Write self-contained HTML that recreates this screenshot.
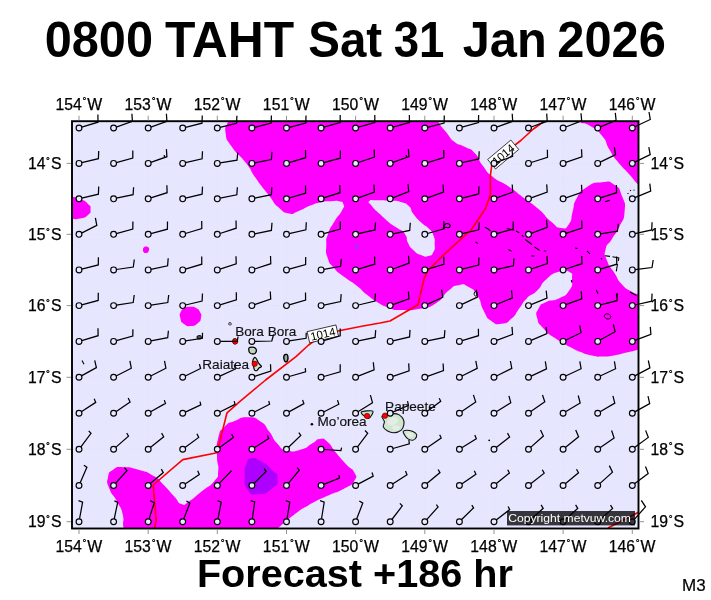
<!DOCTYPE html>
<html><head><meta charset="utf-8"><title>0800 TAHT Sat 31 Jan 2026</title>
<style>html,body{margin:0;padding:0;background:#fff;}svg{display:block;}</style></head>
<body>
<svg width="711" height="600" viewBox="0 0 711 600">
<defs><clipPath id="fc"><rect x="72.0" y="121.2" width="566.5" height="407.3"/></clipPath></defs>
<rect width="711" height="600" fill="#fff"/>
<g clip-path="url(#fc)">
<rect x="72.0" y="121.2" width="566.5" height="407.3" fill="#e6e6ff"/>
<line x1="632.3" y1="121.2" x2="632.3" y2="528.5" stroke="#c8c8d8" stroke-width="0.5" stroke-dasharray="3 2" opacity="0.3"/>
<line x1="563.1" y1="121.2" x2="563.1" y2="528.5" stroke="#c8c8d8" stroke-width="0.5" stroke-dasharray="3 2" opacity="0.3"/>
<line x1="494.0" y1="121.2" x2="494.0" y2="528.5" stroke="#c8c8d8" stroke-width="0.5" stroke-dasharray="3 2" opacity="0.3"/>
<line x1="424.8" y1="121.2" x2="424.8" y2="528.5" stroke="#c8c8d8" stroke-width="0.5" stroke-dasharray="3 2" opacity="0.3"/>
<line x1="355.6" y1="121.2" x2="355.6" y2="528.5" stroke="#c8c8d8" stroke-width="0.5" stroke-dasharray="3 2" opacity="0.3"/>
<line x1="286.5" y1="121.2" x2="286.5" y2="528.5" stroke="#c8c8d8" stroke-width="0.5" stroke-dasharray="3 2" opacity="0.3"/>
<line x1="217.3" y1="121.2" x2="217.3" y2="528.5" stroke="#c8c8d8" stroke-width="0.5" stroke-dasharray="3 2" opacity="0.3"/>
<line x1="148.2" y1="121.2" x2="148.2" y2="528.5" stroke="#c8c8d8" stroke-width="0.5" stroke-dasharray="3 2" opacity="0.3"/>
<line x1="79.0" y1="121.2" x2="79.0" y2="528.5" stroke="#c8c8d8" stroke-width="0.5" stroke-dasharray="3 2" opacity="0.3"/>
<line x1="72.0" y1="163.4" x2="638.5" y2="163.4" stroke="#c8c8d8" stroke-width="0.5" stroke-dasharray="3 2" opacity="0.3"/>
<line x1="72.0" y1="234.3" x2="638.5" y2="234.3" stroke="#c8c8d8" stroke-width="0.5" stroke-dasharray="3 2" opacity="0.3"/>
<line x1="72.0" y1="305.6" x2="638.5" y2="305.6" stroke="#c8c8d8" stroke-width="0.5" stroke-dasharray="3 2" opacity="0.3"/>
<line x1="72.0" y1="377.3" x2="638.5" y2="377.3" stroke="#c8c8d8" stroke-width="0.5" stroke-dasharray="3 2" opacity="0.3"/>
<line x1="72.0" y1="449.3" x2="638.5" y2="449.3" stroke="#c8c8d8" stroke-width="0.5" stroke-dasharray="3 2" opacity="0.3"/>
<line x1="72.0" y1="521.7" x2="638.5" y2="521.7" stroke="#c8c8d8" stroke-width="0.5" stroke-dasharray="3 2" opacity="0.3"/>
<path d="M228.0,121.0C226.5,128.0 224.3,124.3 225.6,133.0C226.9,141.7 225.2,137.0 232.0,147.0C238.8,157.0 238.0,152.5 246.0,163.0C254.0,173.5 248.5,167.8 256.0,178.5C263.5,189.2 261.0,185.3 268.6,195.0C276.2,204.7 271.9,201.5 278.7,207.6C285.5,213.7 282.5,212.2 289.0,213.4C295.5,214.6 290.8,213.9 298.1,211.2C305.4,208.5 303.4,208.3 311.0,205.3C318.6,202.3 314.3,203.6 321.0,202.2C327.7,200.8 325.0,201.5 331.0,201.2C337.0,200.9 334.9,200.3 339.0,201.3C343.1,202.3 342.4,201.2 343.4,204.3C344.4,207.4 345.0,204.8 342.0,210.5C339.0,216.2 339.1,213.7 334.4,221.5C329.7,229.3 330.7,226.2 328.0,234.0C325.3,241.8 326.4,237.1 326.3,245.0C326.2,252.9 325.0,250.1 327.6,257.8C330.2,265.5 328.5,261.7 334.0,268.0C339.5,274.3 336.4,270.9 344.0,276.8C351.6,282.7 349.1,279.8 356.7,285.7C364.3,291.6 360.0,289.2 366.8,294.6C373.6,300.0 369.4,297.5 377.0,302.0C384.6,306.5 381.9,305.3 389.6,308.0C397.3,310.7 390.5,309.7 400.0,310.0C409.5,310.3 406.1,311.2 418.0,309.0C429.9,306.8 425.6,309.5 435.7,303.4C445.8,297.3 440.8,296.9 448.4,290.8C456.0,284.7 451.8,286.5 458.5,285.2C465.2,283.9 462.3,283.5 468.6,287.0C474.9,290.5 472.4,287.8 477.5,295.8C482.6,303.8 479.2,302.6 483.8,311.0C488.4,319.4 485.5,316.8 491.4,321.0C497.3,325.2 494.8,324.5 501.5,323.7C508.2,322.9 505.7,323.7 511.6,318.6C517.5,313.5 514.1,315.2 519.2,308.5C524.3,301.8 520.9,304.3 526.8,298.4C532.7,292.5 530.5,297.1 537.0,290.8C543.5,284.5 538.9,285.7 546.2,279.4C553.5,273.1 551.2,274.3 558.8,271.8C566.4,269.3 564.6,269.3 569.0,271.8C573.4,274.3 572.0,273.1 572.0,279.4C572.0,285.7 573.4,284.5 569.0,290.8C564.6,297.1 566.4,294.7 558.8,298.4C551.2,302.1 552.9,298.6 546.2,302.0C539.5,305.4 541.6,303.0 538.6,308.5C535.6,314.0 535.6,311.9 537.3,318.6C539.0,325.3 537.4,321.9 543.7,328.7C550.0,335.5 547.0,332.6 556.3,338.9C565.6,345.2 563.6,343.4 571.5,347.7C579.4,352.0 573.3,349.2 580.0,351.8C586.7,354.4 583.9,353.9 591.7,355.5C599.5,357.1 595.5,356.7 603.3,356.6C611.1,356.5 607.2,356.6 615.0,355.3C622.8,354.0 618.9,354.5 626.7,352.6C634.5,350.7 630.7,352.1 638.5,349.6C646.3,347.1 642.8,354.9 650.0,345.0C657.2,335.1 661.7,335.3 660.0,320.0C658.3,304.7 654.2,308.3 645.0,299.0C635.8,289.7 640.0,296.9 632.3,292.0C624.6,287.1 627.9,290.7 622.0,284.4C616.1,278.1 619.5,281.0 614.5,273.0C609.5,265.0 609.9,268.4 607.0,260.4C604.1,252.4 604.0,256.1 605.7,249.0C607.4,241.9 607.4,246.5 612.0,239.0C616.6,231.5 615.3,235.8 619.5,226.6C623.7,217.4 623.8,221.6 624.6,211.4C625.4,201.2 625.4,204.9 622.0,196.0C618.6,187.1 621.1,189.4 614.4,184.8C607.7,180.2 611.1,181.5 601.8,182.3C592.5,183.1 595.0,181.8 586.6,187.3C578.2,192.8 581.1,190.7 576.5,198.7C571.9,206.7 575.2,203.0 572.7,211.4C570.2,219.8 572.9,218.5 569.0,224.0C565.1,229.5 567.0,228.8 561.0,228.0C555.0,227.2 558.5,227.8 551.0,221.5C543.5,215.2 547.7,217.0 538.5,209.0C529.3,201.0 533.5,205.2 523.3,197.5C513.1,189.8 518.1,192.8 508.0,186.0C497.9,179.2 501.4,183.7 493.0,177.0C484.6,170.3 488.9,173.8 482.8,165.8C476.7,157.8 480.8,159.3 474.7,153.0C468.6,146.7 471.4,150.5 464.6,146.8C457.8,143.1 460.3,146.4 454.4,141.8C448.5,137.2 452.3,139.9 446.8,133.0C441.3,126.1 441.6,128.0 438.0,121.0C434.4,114.0 440.3,117.7 436.0,112.0C431.7,106.3 443.7,108.0 425.0,104.0C406.3,100.0 411.7,101.3 380.0,100.0C348.3,98.7 363.3,100.0 330.0,100.0C296.7,100.0 310.0,98.7 280.0,100.0C250.0,101.3 256.7,100.0 240.0,104.0C223.3,108.0 234.0,106.3 230.0,112.0C226.0,117.7 229.5,114.0 228.0,121.0Z" fill="#ff00ff"/>
<path d="M572.0,110.0C548.3,115.3 573.3,115.9 579.0,121.0C584.7,126.1 581.4,120.5 589.0,125.3C596.6,130.1 595.0,127.4 601.8,135.4C608.6,143.4 604.3,140.9 609.4,149.4C614.5,157.9 610.3,152.4 617.0,160.8C623.7,169.2 622.4,166.7 629.6,174.7C636.8,182.7 631.7,178.0 638.5,184.8C645.3,191.6 641.2,206.6 650.0,195.0C658.8,183.4 665.0,180.0 665.0,150.0C665.0,120.0 681.0,118.3 650.0,105.0C619.0,91.7 595.7,104.7 572.0,110.0Z" fill="#ff00ff"/>
<path d="M60.0,198.0C63.3,191.3 63.3,196.7 70.0,197.0C76.7,197.3 74.0,196.7 80.0,199.0C86.0,201.3 84.5,200.5 88.0,204.0C91.5,207.5 90.5,205.8 90.5,209.5C90.5,213.2 91.5,212.0 88.0,215.0C84.5,218.0 86.0,217.3 80.0,218.5C74.0,219.7 76.7,219.0 70.0,218.5C63.3,218.0 63.3,223.8 60.0,217.0C56.7,210.2 56.7,204.7 60.0,198.0Z" fill="#ff00ff"/>
<path d="M146.0,246.5C147.5,246.6 147.6,246.4 148.6,247.6C149.6,248.8 149.3,248.4 149.0,250.0C148.7,251.6 148.8,251.3 147.8,252.3C146.8,253.3 147.4,253.1 146.0,253.0C144.6,252.9 144.6,253.2 143.6,252.0C142.6,250.8 142.9,251.1 143.0,249.5C143.1,247.9 143.0,248.3 144.0,247.3C145.0,246.3 144.5,246.4 146.0,246.5Z" fill="#ff00ff"/>
<path d="M190.4,306.8C194.1,306.9 192.8,306.3 196.0,308.0C199.2,309.7 198.3,308.8 200.0,312.0C201.7,315.2 201.7,313.8 201.0,317.5C200.3,321.2 201.3,320.2 198.0,323.0C194.7,325.8 195.7,325.7 191.0,326.0C186.3,326.3 187.6,326.7 184.0,324.0C180.4,321.3 181.3,322.2 180.3,318.0C179.3,313.8 179.4,314.9 181.0,311.5C182.6,308.1 181.9,309.4 185.0,307.8C188.1,306.2 186.7,306.7 190.4,306.8Z" fill="#ff00ff"/>
<path d="M123.6,528.0C121.8,520.0 124.8,522.9 122.6,514.0C120.4,505.1 121.4,509.8 117.0,501.4C112.6,493.0 112.4,496.7 109.4,488.7C106.4,480.7 106.7,483.6 108.0,477.3C109.3,471.0 108.1,473.1 113.2,469.7C118.3,466.3 114.9,467.2 123.3,467.2C131.7,467.2 128.4,466.8 138.5,469.7C148.6,472.6 145.3,470.9 153.7,476.0C162.1,481.1 157.0,478.2 163.8,485.0C170.6,491.8 168.1,490.0 174.0,496.3C179.9,502.6 176.5,502.3 181.5,504.0C186.5,505.7 182.2,505.6 189.0,501.4C195.8,497.2 193.3,498.1 201.8,491.3C210.3,484.5 208.9,487.8 214.4,481.0C219.9,474.2 217.3,479.4 218.2,471.0C219.1,462.6 217.0,466.8 217.0,455.8C217.0,444.8 215.7,447.7 218.2,438.0C220.7,428.3 219.1,432.4 224.6,426.7C230.1,421.0 227.0,424.0 234.7,420.9C242.4,417.8 239.2,417.1 247.8,417.3C256.4,417.5 253.3,416.8 260.5,421.6C267.7,426.4 263.9,424.6 269.4,431.8C274.9,439.0 271.1,437.0 277.0,443.2C282.9,449.4 279.0,448.2 287.0,450.3C295.0,452.4 292.5,451.9 301.0,449.5C309.5,447.1 306.1,446.7 312.4,443.2C318.7,439.7 314.9,439.3 320.0,438.9C325.1,438.5 322.1,437.1 327.6,441.9C333.1,446.7 330.2,445.7 336.5,453.3C342.8,460.9 340.7,458.4 346.6,464.7C352.5,471.0 351.7,466.9 354.2,472.3C356.7,477.7 357.6,475.5 354.2,481.0C350.8,486.5 353.3,483.6 344.0,488.7C334.7,493.8 338.1,490.8 326.3,496.3C314.5,501.8 319.6,498.9 308.6,505.2C297.6,511.5 303.5,507.7 293.4,515.3C283.3,522.9 286.7,520.8 278.2,528.0C269.7,535.2 277.4,531.3 268.0,537.0C258.6,542.7 272.7,541.3 250.0,545.0C227.3,548.7 233.3,548.0 200.0,548.0C166.7,548.0 174.0,548.3 150.0,545.0C126.0,541.7 136.8,543.7 128.0,538.0C119.2,532.3 125.4,536.0 123.6,528.0Z" fill="#ff00ff"/>
<path d="M369.4,201.1C371.1,199.1 370.5,200.5 377.0,200.3C383.5,200.1 380.9,200.1 388.8,200.6C396.7,201.1 393.9,200.0 400.6,201.9C407.3,203.8 404.8,202.2 409.0,206.2C413.2,210.2 409.3,208.5 413.3,213.8C417.3,219.1 415.6,217.1 420.9,222.2C426.2,227.3 425.1,224.5 429.3,229.0C433.5,233.5 431.7,230.7 433.5,235.7C435.3,240.7 434.7,238.8 434.7,244.1C434.7,249.4 435.6,247.7 433.5,251.7C431.4,255.7 432.7,254.9 428.5,256.0C424.3,257.1 426.0,257.1 420.9,255.1C415.8,253.1 417.5,253.9 413.3,250.0C409.1,246.1 411.0,248.6 408.2,243.3C405.4,238.0 408.5,239.1 404.9,234.0C401.3,228.9 402.7,232.0 397.3,228.1C391.9,224.2 394.4,226.7 388.8,222.2C383.2,217.7 386.0,219.9 380.4,214.6C374.8,209.3 375.7,210.7 372.0,206.2C368.3,201.7 367.7,203.1 369.4,201.1Z" fill="#e6e6ff"/>
<path d="M251.0,458.4C255.6,457.5 253.5,457.2 260.5,461.0C267.5,464.8 266.2,463.8 271.9,469.7C277.6,475.6 277.7,472.3 277.7,478.6C277.7,484.9 278.5,483.5 271.9,488.7C265.3,493.9 266.1,494.0 258.0,494.3C249.9,494.6 252.0,495.7 247.6,489.6C243.2,483.5 245.0,484.6 244.7,476.0C244.4,467.4 244.5,469.7 246.6,463.8C248.7,457.9 246.4,459.3 251.0,458.4Z" fill="#ae00ff"/>
<path d="M356.8,245.0C358.0,245.0 358.6,245.5 358.6,246.7C358.6,247.9 358.0,248.6 356.8,248.6C355.6,248.6 355.0,247.9 355.0,246.7C355.0,245.5 355.6,245.0 356.8,245.0Z" fill="#9933ff"/>
<path d="M381.9,416.4C381.3,417.4 384.2,420.0 384.4,421.6C384.6,423.2 382.8,425.5 383.3,426.9C383.8,428.3 386.0,430.2 387.6,431.1C389.2,432.0 391.8,432.9 393.9,432.8C396.0,432.7 399.8,431.3 401.3,430.1C402.8,428.9 403.5,426.4 403.8,424.8C404.1,423.2 404.1,421.0 403.4,419.5C402.7,418.0 400.6,415.8 399.2,414.9C397.8,414.0 395.5,413.6 393.9,413.6C392.3,413.6 390.4,414.5 388.6,414.9C386.8,415.3 382.5,415.4 381.9,416.4Z" fill="#d2e4d2" stroke="#111" stroke-width="1.1" stroke-linejoin="round"/>
<path d="M403.4,431.1C404.2,430.5 407.9,430.2 409.7,430.5C411.5,430.8 414.6,432.3 415.6,433.2C416.6,434.1 416.9,435.8 416.5,436.8C416.1,437.9 414.2,439.9 412.9,440.2C411.6,440.5 409.3,439.7 408.0,438.9C406.7,438.1 405.1,435.9 404.4,434.7C403.7,433.5 402.6,431.7 403.4,431.1Z" fill="#d2e4d2" stroke="#111" stroke-width="1.1" stroke-linejoin="round"/>
<path d="M361.2,412.2C361.8,411.1 371.7,410.2 372.8,411.1C373.9,412.0 370.3,418.3 368.6,418.5C366.9,418.7 360.6,413.3 361.2,412.2Z" fill="#c8dcc8" stroke="#111" stroke-width="1.1" stroke-linejoin="round"/>
<path d="M249.0,348.0C249.5,347.2 251.9,347.1 253.0,347.2C254.1,347.3 255.6,348.2 256.0,349.0C256.4,349.8 256.2,351.8 255.8,352.5C255.4,353.2 253.9,354.0 253.0,354.0C252.1,354.0 250.1,353.4 249.5,352.5C248.9,351.6 248.5,348.8 249.0,348.0Z" fill="#c0d4c0" stroke="#000" stroke-width="1.3" stroke-linejoin="round"/>
<path d="M254.5,357.5C255.1,357.1 255.9,358.2 256.5,359.0C257.1,359.8 257.8,361.9 258.5,363.0C259.2,364.1 261.4,365.8 261.5,366.5C261.6,367.2 259.7,367.4 259.0,368.0C258.3,368.6 257.7,370.2 257.0,370.5C256.3,370.8 255.0,370.7 254.5,370.0C254.0,369.3 253.8,367.2 253.5,366.0C253.2,364.8 252.3,363.3 252.5,362.0C252.7,360.7 253.9,357.9 254.5,357.5Z" fill="#d0e2d0" stroke="#000" stroke-width="1.2" stroke-linejoin="round"/>
<path d="M284.5,355.0C285.0,354.5 286.5,354.1 287.0,354.5C287.5,354.9 288.0,356.9 288.0,358.0C288.0,359.1 287.4,361.0 287.0,361.5C286.6,362.0 285.5,362.0 285.0,361.5C284.5,361.0 283.9,359.0 283.8,358.0C283.7,357.0 284.0,355.5 284.5,355.0Z" fill="#98ac98" stroke="#000" stroke-width="1.4" stroke-linejoin="round"/>
<path d="M233.0,339.5C233.4,338.8 235.3,338.7 236.0,339.0C236.7,339.3 237.5,340.8 237.5,341.5C237.5,342.2 236.6,343.5 236.0,343.8C235.4,344.1 233.9,344.1 233.5,343.5C233.1,342.9 232.6,340.2 233.0,339.5Z" fill="#444" stroke="#111" stroke-width="1" stroke-linejoin="round"/>
<path d="M197.5,336.2C198.0,335.8 199.9,335.5 200.5,335.8C201.1,336.1 201.5,337.5 201.3,338.0C201.1,338.5 199.9,339.0 199.3,339.0C198.7,339.0 197.6,338.6 197.3,338.2C197.0,337.8 197.0,336.6 197.5,336.2Z" fill="#555" stroke="#111" stroke-width="1.1" stroke-linejoin="round"/>
<path d="M229.0,322.8C229.3,322.6 230.5,322.6 230.8,322.8C231.1,323.0 231.3,324.0 231.2,324.4C231.1,324.8 230.4,325.2 230.0,325.2C229.6,325.2 229.0,324.8 228.8,324.4C228.7,324.0 228.7,323.0 229.0,322.8Z" fill="none" stroke="#111" stroke-width="0.9" stroke-linejoin="round"/>
<path d="M443.4,227.9C443.3,227.4 444.5,224.6 445.2,224.0C445.9,223.4 447.2,223.4 448.0,223.6C448.8,223.8 450.2,225.0 450.3,225.6C450.4,226.2 449.2,227.6 448.5,227.8C447.8,228.0 446.6,227.2 445.8,227.2C445.0,227.2 443.5,228.4 443.4,227.9Z" fill="none" stroke="#000" stroke-width="1.1" stroke-linejoin="round"/>
<path d="M474.6,292.0C474.9,291.6 476.1,291.1 476.5,291.5C476.9,291.9 477.3,293.8 477.2,294.5C477.1,295.2 476.1,296.2 475.6,296.2C475.2,296.2 474.3,295.1 474.2,294.5C474.1,293.9 474.3,292.4 474.6,292.0Z" fill="none" stroke="#000" stroke-width="1.0" stroke-linejoin="round"/>
<path d="M610.7,317.2C610.4,318.3 610.5,318.2 609.3,318.7C608.1,319.2 608.4,319.2 607.0,318.8C605.6,318.4 605.8,318.6 605.0,317.5C604.2,316.4 604.2,316.7 604.5,315.6C604.8,314.5 604.7,314.6 605.9,314.1C607.1,313.6 606.8,313.6 608.2,314.0C609.6,314.4 609.4,314.2 610.2,315.3C611.0,316.4 611.0,316.1 610.7,317.2Z" fill="none" stroke="#000" stroke-width="1.0" stroke-linejoin="round"/>
<path d="M389.0,419.0C390.7,417.4 391.6,416.9 394.0,417.0C396.4,417.1 397.5,417.8 398.0,419.5C398.5,421.2 397.9,421.9 396.0,423.5C394.1,425.1 393.3,425.6 391.0,425.5C388.7,425.4 388.0,424.7 387.5,423.0C387.0,421.3 387.3,420.6 389.0,419.0Z" fill="#eef6ee" opacity="0.55"/>
<path d="M392.0,427.0C392.3,425.7 394.9,425.2 397.0,425.5C399.1,425.8 400.3,426.7 400.0,428.0C399.7,429.3 398.1,430.8 396.0,430.5C393.9,430.2 391.7,428.3 392.0,427.0Z" fill="#eef6ee" opacity="0.55"/>
<path d="M407.5,433.0C408.6,432.1 409.9,432.1 411.5,432.8C413.1,433.5 413.8,434.2 413.5,435.5C413.2,436.8 412.1,437.4 410.5,437.5C408.9,437.6 408.3,437.2 407.5,436.0C406.7,434.8 406.4,433.9 407.5,433.0Z" fill="#eef6ee" opacity="0.55"/>
<path d="M82.0,360.6L84.0,364.3" fill="none" stroke="#000" stroke-width="1.1"/>
<path d="M484.7,227.2L487.5,228.5L490.6,231.0" fill="none" stroke="#000" stroke-width="1.1"/>
<path d="M506.7,228.5L514.3,230.2" fill="none" stroke="#000" stroke-width="1.1"/>
<path d="M516.0,231.0L519.3,232.7" fill="none" stroke="#000" stroke-width="1.1"/>
<path d="M521.9,235.3L523.5,236.6" fill="none" stroke="#000" stroke-width="1.1"/>
<path d="M525.2,239.5L532.0,244.5" fill="none" stroke="#000" stroke-width="1.1"/>
<path d="M534.5,247.0L539.6,250.4" fill="none" stroke="#000" stroke-width="1.1"/>
<path d="M543.8,250.8L546.3,251.3" fill="none" stroke="#000" stroke-width="1.1"/>
<path d="M475.4,242.0L478.0,243.4" fill="none" stroke="#000" stroke-width="1.1"/>
<path d="M508.4,249.6L511.7,251.3" fill="none" stroke="#000" stroke-width="1.1"/>
<path d="M531.1,256.0L534.5,256.0" fill="none" stroke="#000" stroke-width="1.1"/>
<path d="M605.0,201.8L610.0,200.3" fill="none" stroke="#000" stroke-width="1.1"/>
<path d="M627.5,193.8L628.5,193.3" fill="none" stroke="#000" stroke-width="1.1"/>
<path d="M630.0,190.8L631.0,190.3" fill="none" stroke="#000" stroke-width="1.1"/>
<path d="M633.5,190.2L634.5,190.0" fill="none" stroke="#000" stroke-width="1.1"/>
<path d="M575.0,248.0L577.5,248.5" fill="none" stroke="#000" stroke-width="1.1"/>
<path d="M587.0,250.8L590.0,253.8" fill="none" stroke="#000" stroke-width="1.1"/>
<path d="M601.0,258.5L602.0,259.2" fill="none" stroke="#000" stroke-width="1.1"/>
<path d="M605.0,255.8L610.0,256.4" fill="none" stroke="#000" stroke-width="1.1"/>
<path d="M612.5,256.8L618.8,258.0L618.3,261.0" fill="none" stroke="#000" stroke-width="1.1"/>
<path d="M617.5,264.0L616.3,271.3" fill="none" stroke="#000" stroke-width="1.1"/>
<path d="M571.3,280.0L572.0,282.5" fill="none" stroke="#000" stroke-width="1.1"/>
<path d="M596.3,290.0L598.0,293.8" fill="none" stroke="#000" stroke-width="1.1"/>
<path d="M616.3,293.8L617.0,297.5" fill="none" stroke="#000" stroke-width="1.1"/>
<path d="M630.0,292.0L636.3,295.5" fill="none" stroke="#000" stroke-width="1.1"/>
<path d="M547.3,119.0L533.4,129.0L520.8,140.5L506.0,152.0L491.6,165.8L490.4,176.0L490.4,195.0L485.3,208.9L475.2,224.0L471.0,230.0L445.8,252.8L428.0,270.5L424.3,278.0L418.0,304.7L390.0,321.0L380.0,323.0L361.8,326.2L339.0,330.8L323.0,334.5L308.6,345.0L296.0,356.6L265.6,380.0L240.0,401.4L227.0,412.8L217.0,452.8L182.8,459.6L153.2,485.0L156.2,520.4L154.2,530.0" fill="none" stroke="#ff0000" stroke-width="1.6" stroke-linejoin="round"/>
<path d="M640.0,511.5L608.0,528.0" fill="none" stroke="#ff0000" stroke-width="1.6" stroke-linejoin="round"/>
</g>
<g transform="translate(503.2,154.5) rotate(-40)"><rect x="-15.15" y="-6.15" width="30.3" height="12.3" fill="#fff" stroke="#000" stroke-width="0.7"/><text x="0" y="4.1" font-family="'Liberation Sans',sans-serif" font-size="11.4" text-anchor="middle" fill="#000">1014</text></g>
<g transform="translate(322.8,333.9) rotate(-13)"><rect x="-14.8" y="-5.75" width="29.6" height="11.5" fill="#fff" stroke="#000" stroke-width="0.7"/><text x="0" y="4.1" font-family="'Liberation Sans',sans-serif" font-size="11.4" text-anchor="middle" fill="#000">1014</text></g>
<circle cx="235.2" cy="341.4" r="2.7" fill="#ff0000" stroke="#500" stroke-width="0.6"/>
<circle cx="254.7" cy="363.8" r="2.7" fill="#ff0000" stroke="#500" stroke-width="0.6"/>
<circle cx="367.1" cy="416" r="2.7" fill="#ff0000" stroke="#500" stroke-width="0.6"/>
<circle cx="385" cy="415.7" r="2.7" fill="#ff0000" stroke="#500" stroke-width="0.6"/>
<circle cx="311.9" cy="424.2" r="1.3" fill="#000"/>
<circle cx="489.2" cy="440.3" r="0.9" fill="#000"/>
<path d="M81.7,127.2L98.0,122.2L97.9,114.6M116.2,127.1L132.4,121.4L131.9,113.8M150.8,127.1L166.9,121.3L166.4,113.7M185.5,127.3L202.0,123.2L202.3,115.6M220.0,127.3L236.6,123.3L236.9,115.7M254.6,127.3L271.2,123.1L271.4,115.5M289.2,127.3L305.8,123.1L306.0,115.5M323.8,127.2L340.2,122.5L340.2,114.9M358.3,127.2L374.8,122.5L374.8,114.9M392.9,127.2L409.4,122.6L409.4,115.0M427.5,127.3L444.1,123.1L444.3,115.5M462.1,127.2L478.5,122.6L478.6,115.0M496.6,127.1L512.7,121.3L512.2,113.7M531.2,127.0L547.2,121.2L546.7,113.6M565.7,127.0L581.7,120.9L581.0,113.3M600.3,126.9L616.1,120.4L615.3,112.9M634.8,126.8L650.3,119.5L649.0,112.0M81.7,162.7L98.4,158.7L98.7,151.1M116.3,162.6L132.8,158.0L132.8,150.4M150.8,162.4L166.9,156.7L166.4,149.1M164.4,157.5L164.3,155.0M185.5,162.7L202.1,158.8L202.5,151.2M220.1,162.9L237.0,160.1L237.8,152.6M254.6,162.8L271.4,159.5L272.0,151.9M289.2,162.6L305.6,157.7L305.5,150.1M323.8,162.6L340.3,158.2L340.4,150.6M358.3,162.5L374.5,157.1L374.2,149.5M392.9,162.4L408.9,156.6L408.4,149.0M406.5,157.4L406.3,155.0M427.5,162.6L443.9,157.6L443.7,150.0M462.1,162.7L478.8,158.9L479.2,151.3M496.6,162.4L512.6,156.4L512.0,148.8M531.2,162.5L547.5,157.4L547.4,149.8M565.8,162.4L581.9,156.8L581.5,149.2M600.2,162.1L615.6,154.6L614.3,147.2M634.8,162.1L650.2,154.6L648.8,147.2M81.7,198.1L98.4,194.2L98.7,186.6M116.3,198.2L133.1,194.7L133.6,187.2M150.8,197.9L167.1,192.7L166.9,185.2M185.5,198.2L202.1,194.2L202.5,186.6M220.1,198.2L236.8,194.8L237.4,187.2M254.6,198.2L271.4,194.7L271.9,187.1M289.2,198.0L305.6,193.2L305.5,185.6M323.7,197.9L340.0,192.7L339.8,185.1M358.3,197.9L374.4,192.1L373.9,184.5M392.8,197.8L408.7,191.5L408.0,183.9M427.4,197.9L443.5,192.1L443.1,184.5M462.1,198.1L478.7,193.9L478.9,186.3M496.6,197.9L512.7,192.1L512.2,184.5M531.2,197.8L547.2,192.0L546.7,184.4M565.8,197.9L581.9,192.3L581.5,184.7M600.4,197.9L616.6,192.7L616.4,185.1M634.9,197.7L650.7,191.2L649.8,183.6M81.5,233.1L96.8,225.4L95.4,217.9M116.3,233.6L132.8,229.1L132.9,221.5M150.9,233.6L167.4,229.2L167.5,221.6M185.4,233.5L201.8,228.6L201.7,221.0M220.0,233.5L236.2,228.2L236.0,220.6M254.6,233.8L271.4,230.4L272.0,222.8M289.2,233.7L305.9,229.8L306.3,222.3M323.8,233.6L340.3,229.1L340.3,221.5M358.4,233.7L375.0,229.9L375.5,222.3M393.0,233.8L409.7,230.4L410.3,222.8M427.5,233.5L443.9,228.8L443.9,221.2M462.1,233.7L478.8,229.8L479.2,222.3M496.7,233.6L513.2,229.1L513.2,221.5M531.2,233.3L547.2,227.3L546.5,219.7M565.8,233.4L582.0,228.1L581.7,220.5M600.5,233.9L617.4,231.2L618.3,223.7M635.0,233.7L651.7,229.9L652.1,222.3M81.7,269.2L98.3,264.9L98.4,257.3M116.3,269.5L133.3,267.0L134.3,259.5M150.9,269.3L167.6,265.8L168.2,258.2M185.4,269.1L201.8,264.2L201.7,256.6M220.0,269.1L236.2,263.8L236.0,256.2M254.6,269.0L270.8,263.7L270.5,256.1M289.2,269.2L305.6,264.5L305.7,256.9M323.8,269.4L340.6,266.3L341.3,258.7M358.3,269.1L374.7,264.2L374.6,256.6M392.9,269.0L409.0,263.2L408.5,255.7M427.5,269.1L443.9,264.3L443.8,256.7M462.1,269.2L478.7,265.0L478.9,257.4M496.7,269.3L513.4,265.8L514.0,258.2M531.2,269.0L547.4,263.5L547.0,255.9M565.8,269.0L582.0,263.7L581.7,256.1M600.4,269.1L616.8,264.2L616.6,256.6M635.1,269.6L652.0,267.5L653.2,260.0M81.7,304.9L98.2,300.4L98.3,292.8M116.3,305.2L133.2,302.5L134.2,295.0M150.9,305.2L167.8,302.5L168.7,295.0M185.5,305.0L202.1,301.1L202.5,293.5M220.0,304.8L236.4,299.9L236.3,292.3M254.5,304.7L270.7,299.1L270.3,291.5M289.2,304.8L305.6,300.0L305.5,292.4M323.8,305.1L340.6,301.6L341.2,294.1M358.4,305.0L375.0,301.1L375.4,293.5M392.9,304.7L408.9,298.8L408.4,291.2M427.3,304.4L442.8,297.2L441.6,289.7M461.9,304.4L477.4,297.1L476.2,289.6M496.5,304.5L512.3,298.0L511.5,290.4M531.1,304.6L547.0,298.2L546.2,290.6M565.8,304.7L581.8,298.8L581.3,291.2M600.4,304.9L617.0,300.7L617.2,293.1M635.0,305.0L651.7,301.2L652.1,293.6M81.7,340.6L98.1,335.7L98.0,328.2M116.3,340.6L132.8,336.1L132.9,329.3M150.9,340.9L167.7,337.7L168.4,330.7M185.5,340.9L202.4,338.3L202.5,332.8M220.1,341.4L237.2,341.4L238.1,336.5M254.7,341.3L271.8,341.0L273.6,334.5M289.2,340.9L306.1,338.3L306.2,332.8M323.8,340.6L340.2,335.9L340.2,328.4M358.4,340.8L375.1,337.4L375.7,330.1M392.9,340.8L409.6,336.9L410.0,329.9M427.5,340.8L444.3,337.4L444.9,330.1M462.1,340.6L478.5,335.7L478.4,328.7M496.6,340.4L512.6,334.4L512.0,326.9M531.1,340.3L546.9,333.7L546.1,327.0M565.6,340.2L581.0,332.7L579.7,325.3M600.1,340.0L615.1,331.7L613.4,324.4M634.9,340.4L650.9,334.4L650.3,326.9M81.4,375.9L96.4,367.6L94.7,360.3M116.1,376.0L131.3,368.2L129.9,360.9M150.7,376.0L165.9,368.2L164.5,360.9M185.3,376.0L200.6,368.5L199.4,364.2M219.9,376.1L235.4,369.0L234.3,364.6M254.6,376.4L270.8,371.0L270.5,364.2M289.2,376.5L305.6,371.9L305.3,368.1M323.8,376.5L340.2,371.8L340.2,364.3M358.2,376.2L374.1,369.8L373.3,362.3M392.9,376.4L409.1,370.9L408.7,363.4M427.4,376.3L443.5,370.5L443.1,363.5M461.9,376.0L477.2,368.3L475.8,360.9M496.5,376.0L511.8,368.3L510.4,361.0M531.1,376.1L546.5,368.8L545.3,361.4M565.6,376.0L581.1,368.7L579.8,361.3M600.2,376.0L615.6,368.7L614.4,361.3M634.8,375.9L649.9,367.9L648.3,360.5M81.3,411.7L95.7,402.4L94.2,398.8M115.9,411.7L130.1,402.1L128.2,397.9M150.6,411.8L165.5,403.4L164.3,400.1M185.3,412.1L200.8,404.9L200.0,401.7M219.8,412.0L235.1,404.3L234.2,401.1M254.4,412.0L269.6,404.2L268.7,401.0M288.9,411.9L303.9,403.6L302.6,400.0M323.6,412.0L338.8,404.2L337.5,400.1M358.0,411.7L372.5,402.7L370.4,395.2M392.8,412.1L408.5,405.4L407.5,401.1M427.0,411.5L440.7,401.2L439.2,398.3M461.7,411.6L475.7,401.9L473.4,394.9M496.3,411.7L510.8,402.7L508.9,395.8M530.8,411.6L544.8,401.8L542.5,395.0M565.5,411.8L580.2,403.0L578.2,395.5M600.1,411.8L614.8,403.1L612.9,395.8M634.7,411.9L649.7,403.6L648.0,396.2M80.7,447.1L91.0,433.4L88.7,430.9M115.7,447.4L128.5,436.1L126.7,433.1M150.3,447.5L163.7,436.8L161.6,433.1M185.0,447.6L198.7,437.4L196.9,433.8M219.6,447.6L233.4,437.6L231.7,434.0M254.3,447.8L268.7,438.6L267.4,435.5M288.5,447.3L300.8,435.5L298.8,432.6M323.9,449.5L340.9,450.5L341.6,447.6M357.3,447.1L367.7,433.4L365.0,430.5M392.9,448.5L409.3,443.8L408.9,439.8M427.1,447.7L441.2,438.0L439.7,434.7M461.8,447.8L476.3,438.7L474.8,435.1M496.2,447.6L509.6,437.0L507.5,433.1M530.6,447.4L543.4,436.0L540.5,430.0M565.3,447.5L578.6,436.8L575.7,429.9M600.0,447.7L614.1,438.0L611.6,430.5M634.5,447.6L648.3,437.4L645.6,430.4M80.1,482.9L86.9,467.2L83.9,465.2M115.5,483.4L126.9,470.7L124.5,467.6M150.3,483.6L163.3,472.6L161.3,469.1M185.1,483.9L199.3,474.4L197.7,470.8M219.3,483.4L231.1,471.1L230.8,470.7M253.9,483.5L266.1,471.5L264.1,468.6M288.3,483.3L299.3,470.2L297.1,467.6M323.7,484.4L339.5,478.1L338.9,475.1M358.1,484.1L373.2,476.1L372.0,472.5M392.6,484.0L407.0,474.8L405.5,471.1M426.9,483.6L440.0,472.6L438.1,469.5M461.7,483.9L475.9,474.3L474.3,470.7M496.1,483.7L509.4,473.0L507.7,469.7M530.7,483.7L544.2,473.2L542.3,469.7M565.3,483.7L578.5,472.8L576.5,469.2M599.8,483.6L612.5,472.1L609.3,465.6M634.5,483.8L648.2,473.5L645.5,466.6M79.5,519.0L82.6,502.2L78.5,500.6M114.2,519.0L117.7,502.3L114.4,500.9M149.0,519.1L154.3,502.8L150.2,500.6M183.7,519.1L189.9,503.1L186.4,501.0M217.9,519.0L221.2,502.2L217.4,500.7M252.3,519.0L254.7,502.0L250.6,500.7M287.0,519.0L289.8,502.1L285.8,500.7M321.5,519.0L324.2,502.1L320.1,500.7M356.6,519.1L362.8,503.1L359.3,501.0M391.9,519.5L402.3,505.9L399.9,503.3M426.7,519.6L438.1,506.9L436.3,504.6M461.4,519.8L473.6,507.8L471.8,505.1M496.2,520.0L509.7,509.6L508.1,506.5M530.6,519.8L543.2,508.3L541.1,504.9M565.2,519.8L577.8,508.3L575.6,504.8M599.8,519.9L612.6,508.5L610.5,505.1M634.1,519.6L645.5,506.8L641.3,500.3" fill="none" stroke="#000" stroke-width="1.25" stroke-linejoin="miter"/>
<g fill="#e9e9ff" stroke="#000" stroke-width="1.15"><circle cx="79.0" cy="128.0" r="2.9"/><circle cx="113.6" cy="128.0" r="2.9"/><circle cx="148.2" cy="128.0" r="2.9"/><circle cx="182.7" cy="128.0" r="2.9"/><circle cx="217.3" cy="128.0" r="2.9"/><circle cx="251.9" cy="128.0" r="2.9"/><circle cx="286.5" cy="128.0" r="2.9"/><circle cx="321.1" cy="128.0" r="2.9"/><circle cx="355.6" cy="128.0" r="2.9"/><circle cx="390.2" cy="128.0" r="2.9"/><circle cx="424.8" cy="128.0" r="2.9"/><circle cx="459.4" cy="128.0" r="2.9"/><circle cx="494.0" cy="128.0" r="2.9"/><circle cx="528.5" cy="128.0" r="2.9"/><circle cx="563.1" cy="128.0" r="2.9"/><circle cx="597.7" cy="128.0" r="2.9"/><circle cx="632.3" cy="128.0" r="2.9"/><circle cx="79.0" cy="163.4" r="2.9"/><circle cx="113.6" cy="163.4" r="2.9"/><circle cx="148.2" cy="163.4" r="2.9"/><circle cx="182.7" cy="163.4" r="2.9"/><circle cx="217.3" cy="163.4" r="2.9"/><circle cx="251.9" cy="163.4" r="2.9"/><circle cx="286.5" cy="163.4" r="2.9"/><circle cx="321.1" cy="163.4" r="2.9"/><circle cx="355.6" cy="163.4" r="2.9"/><circle cx="390.2" cy="163.4" r="2.9"/><circle cx="424.8" cy="163.4" r="2.9"/><circle cx="459.4" cy="163.4" r="2.9"/><circle cx="494.0" cy="163.4" r="2.9"/><circle cx="528.5" cy="163.4" r="2.9"/><circle cx="563.1" cy="163.4" r="2.9"/><circle cx="597.7" cy="163.4" r="2.9"/><circle cx="632.3" cy="163.4" r="2.9"/><circle cx="79.0" cy="198.8" r="2.9"/><circle cx="113.6" cy="198.8" r="2.9"/><circle cx="148.2" cy="198.8" r="2.9"/><circle cx="182.7" cy="198.8" r="2.9"/><circle cx="217.3" cy="198.8" r="2.9"/><circle cx="251.9" cy="198.8" r="2.9"/><circle cx="286.5" cy="198.8" r="2.9"/><circle cx="321.1" cy="198.8" r="2.9"/><circle cx="355.6" cy="198.8" r="2.9"/><circle cx="390.2" cy="198.8" r="2.9"/><circle cx="424.8" cy="198.8" r="2.9"/><circle cx="459.4" cy="198.8" r="2.9"/><circle cx="494.0" cy="198.8" r="2.9"/><circle cx="528.5" cy="198.8" r="2.9"/><circle cx="563.1" cy="198.8" r="2.9"/><circle cx="597.7" cy="198.8" r="2.9"/><circle cx="632.3" cy="198.8" r="2.9"/><circle cx="79.0" cy="234.3" r="2.9"/><circle cx="113.6" cy="234.3" r="2.9"/><circle cx="148.2" cy="234.3" r="2.9"/><circle cx="182.7" cy="234.3" r="2.9"/><circle cx="217.3" cy="234.3" r="2.9"/><circle cx="251.9" cy="234.3" r="2.9"/><circle cx="286.5" cy="234.3" r="2.9"/><circle cx="321.1" cy="234.3" r="2.9"/><circle cx="355.6" cy="234.3" r="2.9"/><circle cx="390.2" cy="234.3" r="2.9"/><circle cx="424.8" cy="234.3" r="2.9"/><circle cx="459.4" cy="234.3" r="2.9"/><circle cx="494.0" cy="234.3" r="2.9"/><circle cx="528.5" cy="234.3" r="2.9"/><circle cx="563.1" cy="234.3" r="2.9"/><circle cx="597.7" cy="234.3" r="2.9"/><circle cx="632.3" cy="234.3" r="2.9"/><circle cx="79.0" cy="269.9" r="2.9"/><circle cx="113.6" cy="269.9" r="2.9"/><circle cx="148.2" cy="269.9" r="2.9"/><circle cx="182.7" cy="269.9" r="2.9"/><circle cx="217.3" cy="269.9" r="2.9"/><circle cx="251.9" cy="269.9" r="2.9"/><circle cx="286.5" cy="269.9" r="2.9"/><circle cx="321.1" cy="269.9" r="2.9"/><circle cx="355.6" cy="269.9" r="2.9"/><circle cx="390.2" cy="269.9" r="2.9"/><circle cx="424.8" cy="269.9" r="2.9"/><circle cx="459.4" cy="269.9" r="2.9"/><circle cx="494.0" cy="269.9" r="2.9"/><circle cx="528.5" cy="269.9" r="2.9"/><circle cx="563.1" cy="269.9" r="2.9"/><circle cx="597.7" cy="269.9" r="2.9"/><circle cx="632.3" cy="269.9" r="2.9"/><circle cx="79.0" cy="305.6" r="2.9"/><circle cx="113.6" cy="305.6" r="2.9"/><circle cx="148.2" cy="305.6" r="2.9"/><circle cx="182.7" cy="305.6" r="2.9"/><circle cx="217.3" cy="305.6" r="2.9"/><circle cx="251.9" cy="305.6" r="2.9"/><circle cx="286.5" cy="305.6" r="2.9"/><circle cx="321.1" cy="305.6" r="2.9"/><circle cx="355.6" cy="305.6" r="2.9"/><circle cx="390.2" cy="305.6" r="2.9"/><circle cx="424.8" cy="305.6" r="2.9"/><circle cx="459.4" cy="305.6" r="2.9"/><circle cx="494.0" cy="305.6" r="2.9"/><circle cx="528.5" cy="305.6" r="2.9"/><circle cx="563.1" cy="305.6" r="2.9"/><circle cx="597.7" cy="305.6" r="2.9"/><circle cx="632.3" cy="305.6" r="2.9"/><circle cx="79.0" cy="341.4" r="2.9"/><circle cx="113.6" cy="341.4" r="2.9"/><circle cx="148.2" cy="341.4" r="2.9"/><circle cx="182.7" cy="341.4" r="2.9"/><circle cx="217.3" cy="341.4" r="2.9"/><circle cx="251.9" cy="341.4" r="2.9"/><circle cx="286.5" cy="341.4" r="2.9"/><circle cx="321.1" cy="341.4" r="2.9"/><circle cx="355.6" cy="341.4" r="2.9"/><circle cx="390.2" cy="341.4" r="2.9"/><circle cx="424.8" cy="341.4" r="2.9"/><circle cx="459.4" cy="341.4" r="2.9"/><circle cx="494.0" cy="341.4" r="2.9"/><circle cx="528.5" cy="341.4" r="2.9"/><circle cx="563.1" cy="341.4" r="2.9"/><circle cx="597.7" cy="341.4" r="2.9"/><circle cx="632.3" cy="341.4" r="2.9"/><circle cx="79.0" cy="377.3" r="2.9"/><circle cx="113.6" cy="377.3" r="2.9"/><circle cx="148.2" cy="377.3" r="2.9"/><circle cx="182.7" cy="377.3" r="2.9"/><circle cx="217.3" cy="377.3" r="2.9"/><circle cx="251.9" cy="377.3" r="2.9"/><circle cx="286.5" cy="377.3" r="2.9"/><circle cx="321.1" cy="377.3" r="2.9"/><circle cx="355.6" cy="377.3" r="2.9"/><circle cx="390.2" cy="377.3" r="2.9"/><circle cx="424.8" cy="377.3" r="2.9"/><circle cx="459.4" cy="377.3" r="2.9"/><circle cx="494.0" cy="377.3" r="2.9"/><circle cx="528.5" cy="377.3" r="2.9"/><circle cx="563.1" cy="377.3" r="2.9"/><circle cx="597.7" cy="377.3" r="2.9"/><circle cx="632.3" cy="377.3" r="2.9"/><circle cx="79.0" cy="413.2" r="2.9"/><circle cx="113.6" cy="413.2" r="2.9"/><circle cx="148.2" cy="413.2" r="2.9"/><circle cx="182.7" cy="413.2" r="2.9"/><circle cx="217.3" cy="413.2" r="2.9"/><circle cx="251.9" cy="413.2" r="2.9"/><circle cx="286.5" cy="413.2" r="2.9"/><circle cx="321.1" cy="413.2" r="2.9"/><circle cx="355.6" cy="413.2" r="2.9"/><circle cx="390.2" cy="413.2" r="2.9"/><circle cx="424.8" cy="413.2" r="2.9"/><circle cx="459.4" cy="413.2" r="2.9"/><circle cx="494.0" cy="413.2" r="2.9"/><circle cx="528.5" cy="413.2" r="2.9"/><circle cx="563.1" cy="413.2" r="2.9"/><circle cx="597.7" cy="413.2" r="2.9"/><circle cx="632.3" cy="413.2" r="2.9"/><circle cx="79.0" cy="449.3" r="2.9"/><circle cx="113.6" cy="449.3" r="2.9"/><circle cx="148.2" cy="449.3" r="2.9"/><circle cx="182.7" cy="449.3" r="2.9"/><circle cx="217.3" cy="449.3" r="2.9"/><circle cx="251.9" cy="449.3" r="2.9"/><circle cx="286.5" cy="449.3" r="2.9"/><circle cx="321.1" cy="449.3" r="2.9"/><circle cx="355.6" cy="449.3" r="2.9"/><circle cx="390.2" cy="449.3" r="2.9"/><circle cx="424.8" cy="449.3" r="2.9"/><circle cx="459.4" cy="449.3" r="2.9"/><circle cx="494.0" cy="449.3" r="2.9"/><circle cx="528.5" cy="449.3" r="2.9"/><circle cx="563.1" cy="449.3" r="2.9"/><circle cx="597.7" cy="449.3" r="2.9"/><circle cx="632.3" cy="449.3" r="2.9"/><circle cx="79.0" cy="485.5" r="2.9"/><circle cx="113.6" cy="485.5" r="2.9"/><circle cx="148.2" cy="485.5" r="2.9"/><circle cx="182.7" cy="485.5" r="2.9"/><circle cx="217.3" cy="485.5" r="2.9"/><circle cx="251.9" cy="485.5" r="2.9"/><circle cx="286.5" cy="485.5" r="2.9"/><circle cx="321.1" cy="485.5" r="2.9"/><circle cx="355.6" cy="485.5" r="2.9"/><circle cx="390.2" cy="485.5" r="2.9"/><circle cx="424.8" cy="485.5" r="2.9"/><circle cx="459.4" cy="485.5" r="2.9"/><circle cx="494.0" cy="485.5" r="2.9"/><circle cx="528.5" cy="485.5" r="2.9"/><circle cx="563.1" cy="485.5" r="2.9"/><circle cx="597.7" cy="485.5" r="2.9"/><circle cx="632.3" cy="485.5" r="2.9"/><circle cx="79.0" cy="521.7" r="2.9"/><circle cx="113.6" cy="521.7" r="2.9"/><circle cx="148.2" cy="521.7" r="2.9"/><circle cx="182.7" cy="521.7" r="2.9"/><circle cx="217.3" cy="521.7" r="2.9"/><circle cx="251.9" cy="521.7" r="2.9"/><circle cx="286.5" cy="521.7" r="2.9"/><circle cx="321.1" cy="521.7" r="2.9"/><circle cx="355.6" cy="521.7" r="2.9"/><circle cx="390.2" cy="521.7" r="2.9"/><circle cx="424.8" cy="521.7" r="2.9"/><circle cx="459.4" cy="521.7" r="2.9"/><circle cx="494.0" cy="521.7" r="2.9"/><circle cx="528.5" cy="521.7" r="2.9"/><circle cx="563.1" cy="521.7" r="2.9"/><circle cx="597.7" cy="521.7" r="2.9"/><circle cx="632.3" cy="521.7" r="2.9"/></g>
<rect x="507" y="511" width="128" height="14.4" fill="#000" fill-opacity="0.77"/>
<text x="508.2" y="522.1" font-family="'Liberation Sans',sans-serif" font-size="11.8" fill="#fff" textLength="122.8" lengthAdjust="spacingAndGlyphs">Copyright metvuw.com</text>
<rect x="72.0" y="121.2" width="566.5" height="407.3" fill="none" stroke="#000" stroke-width="1.9"/>
<line x1="632.3" y1="120.2" x2="632.3" y2="115.7" stroke="#888" stroke-width="0.9"/>
<line x1="632.3" y1="529.5" x2="632.3" y2="534.0" stroke="#888" stroke-width="0.9"/>
<text y="109.60" font-family="'Liberation Sans',sans-serif" font-size="15.6" fill="#000" stroke="#000" stroke-width="0.25"><tspan x="608.68" textLength="26.29" lengthAdjust="spacingAndGlyphs">146</tspan><tspan x="635.78" dy="-5.4" font-size="9.6" stroke-width="0.35">°</tspan><tspan x="640.58" dy="5.4" textLength="14.94" lengthAdjust="spacingAndGlyphs">W</tspan></text>
<text y="551.60" font-family="'Liberation Sans',sans-serif" font-size="15.6" fill="#000" stroke="#000" stroke-width="0.25"><tspan x="608.68" textLength="26.29" lengthAdjust="spacingAndGlyphs">146</tspan><tspan x="635.78" dy="-5.4" font-size="9.6" stroke-width="0.35">°</tspan><tspan x="640.58" dy="5.4" textLength="14.94" lengthAdjust="spacingAndGlyphs">W</tspan></text>
<line x1="563.1" y1="120.2" x2="563.1" y2="115.7" stroke="#888" stroke-width="0.9"/>
<line x1="563.1" y1="529.5" x2="563.1" y2="534.0" stroke="#888" stroke-width="0.9"/>
<text y="109.60" font-family="'Liberation Sans',sans-serif" font-size="15.6" fill="#000" stroke="#000" stroke-width="0.25"><tspan x="539.52" textLength="26.29" lengthAdjust="spacingAndGlyphs">147</tspan><tspan x="566.62" dy="-5.4" font-size="9.6" stroke-width="0.35">°</tspan><tspan x="571.42" dy="5.4" textLength="14.94" lengthAdjust="spacingAndGlyphs">W</tspan></text>
<text y="551.60" font-family="'Liberation Sans',sans-serif" font-size="15.6" fill="#000" stroke="#000" stroke-width="0.25"><tspan x="539.52" textLength="26.29" lengthAdjust="spacingAndGlyphs">147</tspan><tspan x="566.62" dy="-5.4" font-size="9.6" stroke-width="0.35">°</tspan><tspan x="571.42" dy="5.4" textLength="14.94" lengthAdjust="spacingAndGlyphs">W</tspan></text>
<line x1="494.0" y1="120.2" x2="494.0" y2="115.7" stroke="#888" stroke-width="0.9"/>
<line x1="494.0" y1="529.5" x2="494.0" y2="534.0" stroke="#888" stroke-width="0.9"/>
<text y="109.60" font-family="'Liberation Sans',sans-serif" font-size="15.6" fill="#000" stroke="#000" stroke-width="0.25"><tspan x="470.36" textLength="26.29" lengthAdjust="spacingAndGlyphs">148</tspan><tspan x="497.46" dy="-5.4" font-size="9.6" stroke-width="0.35">°</tspan><tspan x="502.26" dy="5.4" textLength="14.94" lengthAdjust="spacingAndGlyphs">W</tspan></text>
<text y="551.60" font-family="'Liberation Sans',sans-serif" font-size="15.6" fill="#000" stroke="#000" stroke-width="0.25"><tspan x="470.36" textLength="26.29" lengthAdjust="spacingAndGlyphs">148</tspan><tspan x="497.46" dy="-5.4" font-size="9.6" stroke-width="0.35">°</tspan><tspan x="502.26" dy="5.4" textLength="14.94" lengthAdjust="spacingAndGlyphs">W</tspan></text>
<line x1="424.8" y1="120.2" x2="424.8" y2="115.7" stroke="#888" stroke-width="0.9"/>
<line x1="424.8" y1="529.5" x2="424.8" y2="534.0" stroke="#888" stroke-width="0.9"/>
<text y="109.60" font-family="'Liberation Sans',sans-serif" font-size="15.6" fill="#000" stroke="#000" stroke-width="0.25"><tspan x="401.20" textLength="26.29" lengthAdjust="spacingAndGlyphs">149</tspan><tspan x="428.30" dy="-5.4" font-size="9.6" stroke-width="0.35">°</tspan><tspan x="433.10" dy="5.4" textLength="14.94" lengthAdjust="spacingAndGlyphs">W</tspan></text>
<text y="551.60" font-family="'Liberation Sans',sans-serif" font-size="15.6" fill="#000" stroke="#000" stroke-width="0.25"><tspan x="401.20" textLength="26.29" lengthAdjust="spacingAndGlyphs">149</tspan><tspan x="428.30" dy="-5.4" font-size="9.6" stroke-width="0.35">°</tspan><tspan x="433.10" dy="5.4" textLength="14.94" lengthAdjust="spacingAndGlyphs">W</tspan></text>
<line x1="355.6" y1="120.2" x2="355.6" y2="115.7" stroke="#888" stroke-width="0.9"/>
<line x1="355.6" y1="529.5" x2="355.6" y2="534.0" stroke="#888" stroke-width="0.9"/>
<text y="109.60" font-family="'Liberation Sans',sans-serif" font-size="15.6" fill="#000" stroke="#000" stroke-width="0.25"><tspan x="332.04" textLength="26.29" lengthAdjust="spacingAndGlyphs">150</tspan><tspan x="359.14" dy="-5.4" font-size="9.6" stroke-width="0.35">°</tspan><tspan x="363.94" dy="5.4" textLength="14.94" lengthAdjust="spacingAndGlyphs">W</tspan></text>
<text y="551.60" font-family="'Liberation Sans',sans-serif" font-size="15.6" fill="#000" stroke="#000" stroke-width="0.25"><tspan x="332.04" textLength="26.29" lengthAdjust="spacingAndGlyphs">150</tspan><tspan x="359.14" dy="-5.4" font-size="9.6" stroke-width="0.35">°</tspan><tspan x="363.94" dy="5.4" textLength="14.94" lengthAdjust="spacingAndGlyphs">W</tspan></text>
<line x1="286.5" y1="120.2" x2="286.5" y2="115.7" stroke="#888" stroke-width="0.9"/>
<line x1="286.5" y1="529.5" x2="286.5" y2="534.0" stroke="#888" stroke-width="0.9"/>
<text y="109.60" font-family="'Liberation Sans',sans-serif" font-size="15.6" fill="#000" stroke="#000" stroke-width="0.25"><tspan x="262.88" textLength="26.29" lengthAdjust="spacingAndGlyphs">151</tspan><tspan x="289.98" dy="-5.4" font-size="9.6" stroke-width="0.35">°</tspan><tspan x="294.78" dy="5.4" textLength="14.94" lengthAdjust="spacingAndGlyphs">W</tspan></text>
<text y="551.60" font-family="'Liberation Sans',sans-serif" font-size="15.6" fill="#000" stroke="#000" stroke-width="0.25"><tspan x="262.88" textLength="26.29" lengthAdjust="spacingAndGlyphs">151</tspan><tspan x="289.98" dy="-5.4" font-size="9.6" stroke-width="0.35">°</tspan><tspan x="294.78" dy="5.4" textLength="14.94" lengthAdjust="spacingAndGlyphs">W</tspan></text>
<line x1="217.3" y1="120.2" x2="217.3" y2="115.7" stroke="#888" stroke-width="0.9"/>
<line x1="217.3" y1="529.5" x2="217.3" y2="534.0" stroke="#888" stroke-width="0.9"/>
<text y="109.60" font-family="'Liberation Sans',sans-serif" font-size="15.6" fill="#000" stroke="#000" stroke-width="0.25"><tspan x="193.72" textLength="26.29" lengthAdjust="spacingAndGlyphs">152</tspan><tspan x="220.82" dy="-5.4" font-size="9.6" stroke-width="0.35">°</tspan><tspan x="225.62" dy="5.4" textLength="14.94" lengthAdjust="spacingAndGlyphs">W</tspan></text>
<text y="551.60" font-family="'Liberation Sans',sans-serif" font-size="15.6" fill="#000" stroke="#000" stroke-width="0.25"><tspan x="193.72" textLength="26.29" lengthAdjust="spacingAndGlyphs">152</tspan><tspan x="220.82" dy="-5.4" font-size="9.6" stroke-width="0.35">°</tspan><tspan x="225.62" dy="5.4" textLength="14.94" lengthAdjust="spacingAndGlyphs">W</tspan></text>
<line x1="148.2" y1="120.2" x2="148.2" y2="115.7" stroke="#888" stroke-width="0.9"/>
<line x1="148.2" y1="529.5" x2="148.2" y2="534.0" stroke="#888" stroke-width="0.9"/>
<text y="109.60" font-family="'Liberation Sans',sans-serif" font-size="15.6" fill="#000" stroke="#000" stroke-width="0.25"><tspan x="124.56" textLength="26.29" lengthAdjust="spacingAndGlyphs">153</tspan><tspan x="151.66" dy="-5.4" font-size="9.6" stroke-width="0.35">°</tspan><tspan x="156.46" dy="5.4" textLength="14.94" lengthAdjust="spacingAndGlyphs">W</tspan></text>
<text y="551.60" font-family="'Liberation Sans',sans-serif" font-size="15.6" fill="#000" stroke="#000" stroke-width="0.25"><tspan x="124.56" textLength="26.29" lengthAdjust="spacingAndGlyphs">153</tspan><tspan x="151.66" dy="-5.4" font-size="9.6" stroke-width="0.35">°</tspan><tspan x="156.46" dy="5.4" textLength="14.94" lengthAdjust="spacingAndGlyphs">W</tspan></text>
<line x1="79.0" y1="120.2" x2="79.0" y2="115.7" stroke="#888" stroke-width="0.9"/>
<line x1="79.0" y1="529.5" x2="79.0" y2="534.0" stroke="#888" stroke-width="0.9"/>
<text y="109.60" font-family="'Liberation Sans',sans-serif" font-size="15.6" fill="#000" stroke="#000" stroke-width="0.25"><tspan x="55.40" textLength="26.29" lengthAdjust="spacingAndGlyphs">154</tspan><tspan x="82.50" dy="-5.4" font-size="9.6" stroke-width="0.35">°</tspan><tspan x="87.30" dy="5.4" textLength="14.94" lengthAdjust="spacingAndGlyphs">W</tspan></text>
<text y="551.60" font-family="'Liberation Sans',sans-serif" font-size="15.6" fill="#000" stroke="#000" stroke-width="0.25"><tspan x="55.40" textLength="26.29" lengthAdjust="spacingAndGlyphs">154</tspan><tspan x="82.50" dy="-5.4" font-size="9.6" stroke-width="0.35">°</tspan><tspan x="87.30" dy="5.4" textLength="14.94" lengthAdjust="spacingAndGlyphs">W</tspan></text>
<line x1="71.0" y1="163.4" x2="66.5" y2="163.4" stroke="#888" stroke-width="0.9"/>
<line x1="639.5" y1="163.4" x2="644.0" y2="163.4" stroke="#888" stroke-width="0.9"/>
<text y="168.96" font-family="'Liberation Sans',sans-serif" font-size="15.6" fill="#000" stroke="#000" stroke-width="0.25"><tspan x="28.00" textLength="17.53" lengthAdjust="spacingAndGlyphs">14</tspan><tspan x="46.10" dy="-5.4" font-size="9.6" stroke-width="0.35">°</tspan><tspan x="50.90" dy="5.4" textLength="10.56" lengthAdjust="spacingAndGlyphs">S</tspan></text>
<text y="168.96" font-family="'Liberation Sans',sans-serif" font-size="15.6" fill="#000" stroke="#000" stroke-width="0.25"><tspan x="650.60" textLength="17.53" lengthAdjust="spacingAndGlyphs">14</tspan><tspan x="668.70" dy="-5.4" font-size="9.6" stroke-width="0.35">°</tspan><tspan x="673.50" dy="5.4" textLength="10.56" lengthAdjust="spacingAndGlyphs">S</tspan></text>
<line x1="71.0" y1="234.3" x2="66.5" y2="234.3" stroke="#888" stroke-width="0.9"/>
<line x1="639.5" y1="234.3" x2="644.0" y2="234.3" stroke="#888" stroke-width="0.9"/>
<text y="239.92" font-family="'Liberation Sans',sans-serif" font-size="15.6" fill="#000" stroke="#000" stroke-width="0.25"><tspan x="28.00" textLength="17.53" lengthAdjust="spacingAndGlyphs">15</tspan><tspan x="46.10" dy="-5.4" font-size="9.6" stroke-width="0.35">°</tspan><tspan x="50.90" dy="5.4" textLength="10.56" lengthAdjust="spacingAndGlyphs">S</tspan></text>
<text y="239.92" font-family="'Liberation Sans',sans-serif" font-size="15.6" fill="#000" stroke="#000" stroke-width="0.25"><tspan x="650.60" textLength="17.53" lengthAdjust="spacingAndGlyphs">15</tspan><tspan x="668.70" dy="-5.4" font-size="9.6" stroke-width="0.35">°</tspan><tspan x="673.50" dy="5.4" textLength="10.56" lengthAdjust="spacingAndGlyphs">S</tspan></text>
<line x1="71.0" y1="305.6" x2="66.5" y2="305.6" stroke="#888" stroke-width="0.9"/>
<line x1="639.5" y1="305.6" x2="644.0" y2="305.6" stroke="#888" stroke-width="0.9"/>
<text y="311.21" font-family="'Liberation Sans',sans-serif" font-size="15.6" fill="#000" stroke="#000" stroke-width="0.25"><tspan x="28.00" textLength="17.53" lengthAdjust="spacingAndGlyphs">16</tspan><tspan x="46.10" dy="-5.4" font-size="9.6" stroke-width="0.35">°</tspan><tspan x="50.90" dy="5.4" textLength="10.56" lengthAdjust="spacingAndGlyphs">S</tspan></text>
<text y="311.21" font-family="'Liberation Sans',sans-serif" font-size="15.6" fill="#000" stroke="#000" stroke-width="0.25"><tspan x="650.60" textLength="17.53" lengthAdjust="spacingAndGlyphs">16</tspan><tspan x="668.70" dy="-5.4" font-size="9.6" stroke-width="0.35">°</tspan><tspan x="673.50" dy="5.4" textLength="10.56" lengthAdjust="spacingAndGlyphs">S</tspan></text>
<line x1="71.0" y1="377.3" x2="66.5" y2="377.3" stroke="#888" stroke-width="0.9"/>
<line x1="639.5" y1="377.3" x2="644.0" y2="377.3" stroke="#888" stroke-width="0.9"/>
<text y="382.86" font-family="'Liberation Sans',sans-serif" font-size="15.6" fill="#000" stroke="#000" stroke-width="0.25"><tspan x="28.00" textLength="17.53" lengthAdjust="spacingAndGlyphs">17</tspan><tspan x="46.10" dy="-5.4" font-size="9.6" stroke-width="0.35">°</tspan><tspan x="50.90" dy="5.4" textLength="10.56" lengthAdjust="spacingAndGlyphs">S</tspan></text>
<text y="382.86" font-family="'Liberation Sans',sans-serif" font-size="15.6" fill="#000" stroke="#000" stroke-width="0.25"><tspan x="650.60" textLength="17.53" lengthAdjust="spacingAndGlyphs">17</tspan><tspan x="668.70" dy="-5.4" font-size="9.6" stroke-width="0.35">°</tspan><tspan x="673.50" dy="5.4" textLength="10.56" lengthAdjust="spacingAndGlyphs">S</tspan></text>
<line x1="71.0" y1="449.3" x2="66.5" y2="449.3" stroke="#888" stroke-width="0.9"/>
<line x1="639.5" y1="449.3" x2="644.0" y2="449.3" stroke="#888" stroke-width="0.9"/>
<text y="454.89" font-family="'Liberation Sans',sans-serif" font-size="15.6" fill="#000" stroke="#000" stroke-width="0.25"><tspan x="28.00" textLength="17.53" lengthAdjust="spacingAndGlyphs">18</tspan><tspan x="46.10" dy="-5.4" font-size="9.6" stroke-width="0.35">°</tspan><tspan x="50.90" dy="5.4" textLength="10.56" lengthAdjust="spacingAndGlyphs">S</tspan></text>
<text y="454.89" font-family="'Liberation Sans',sans-serif" font-size="15.6" fill="#000" stroke="#000" stroke-width="0.25"><tspan x="650.60" textLength="17.53" lengthAdjust="spacingAndGlyphs">18</tspan><tspan x="668.70" dy="-5.4" font-size="9.6" stroke-width="0.35">°</tspan><tspan x="673.50" dy="5.4" textLength="10.56" lengthAdjust="spacingAndGlyphs">S</tspan></text>
<line x1="71.0" y1="521.7" x2="66.5" y2="521.7" stroke="#888" stroke-width="0.9"/>
<line x1="639.5" y1="521.7" x2="644.0" y2="521.7" stroke="#888" stroke-width="0.9"/>
<text y="527.33" font-family="'Liberation Sans',sans-serif" font-size="15.6" fill="#000" stroke="#000" stroke-width="0.25"><tspan x="28.00" textLength="17.53" lengthAdjust="spacingAndGlyphs">19</tspan><tspan x="46.10" dy="-5.4" font-size="9.6" stroke-width="0.35">°</tspan><tspan x="50.90" dy="5.4" textLength="10.56" lengthAdjust="spacingAndGlyphs">S</tspan></text>
<text y="527.33" font-family="'Liberation Sans',sans-serif" font-size="15.6" fill="#000" stroke="#000" stroke-width="0.25"><tspan x="650.60" textLength="17.53" lengthAdjust="spacingAndGlyphs">19</tspan><tspan x="668.70" dy="-5.4" font-size="9.6" stroke-width="0.35">°</tspan><tspan x="673.50" dy="5.4" textLength="10.56" lengthAdjust="spacingAndGlyphs">S</tspan></text>
<text x="235.2" y="335.5" font-family="'Liberation Sans',sans-serif" font-size="13.6" fill="#111" stroke="#111" stroke-width="0.15">Bora Bora</text>
<text x="202.3" y="368.5" font-family="'Liberation Sans',sans-serif" font-size="13.6" fill="#111" stroke="#111" stroke-width="0.15">Raiatea</text>
<text x="317.5" y="426.2" font-family="'Liberation Sans',sans-serif" font-size="13.6" fill="#111" stroke="#111" stroke-width="0.15">Mo’orea</text>
<text x="385.1" y="410.9" font-family="'Liberation Sans',sans-serif" font-size="13.6" fill="#111" stroke="#111" stroke-width="0.15">Papeete</text>
<text y="57.1" font-family="'Liberation Sans',sans-serif" font-weight="bold" font-size="50.6" fill="#000"><tspan x="44.68" textLength="108.33" lengthAdjust="spacingAndGlyphs">0800</tspan> <tspan x="165.12" textLength="129.12" lengthAdjust="spacingAndGlyphs">TAHT</tspan> <tspan x="308.22" textLength="73.87" lengthAdjust="spacingAndGlyphs">Sat</tspan> <tspan x="393.65" textLength="50.65" lengthAdjust="spacingAndGlyphs">31</tspan> <tspan x="462.74" textLength="84.04" lengthAdjust="spacingAndGlyphs">Jan</tspan> <tspan x="557.27" textLength="108.54" lengthAdjust="spacingAndGlyphs">2026</tspan></text>
<text x="196.9" y="587.3" textLength="316" lengthAdjust="spacingAndGlyphs" font-family="'Liberation Sans',sans-serif" font-weight="bold" font-size="39.5" fill="#000">Forecast +186 hr</text>
<text x="682" y="591.2" font-family="'Liberation Sans',sans-serif" font-size="17" fill="#000" stroke="#000" stroke-width="0.2">M3</text>
</svg>
</body></html>
